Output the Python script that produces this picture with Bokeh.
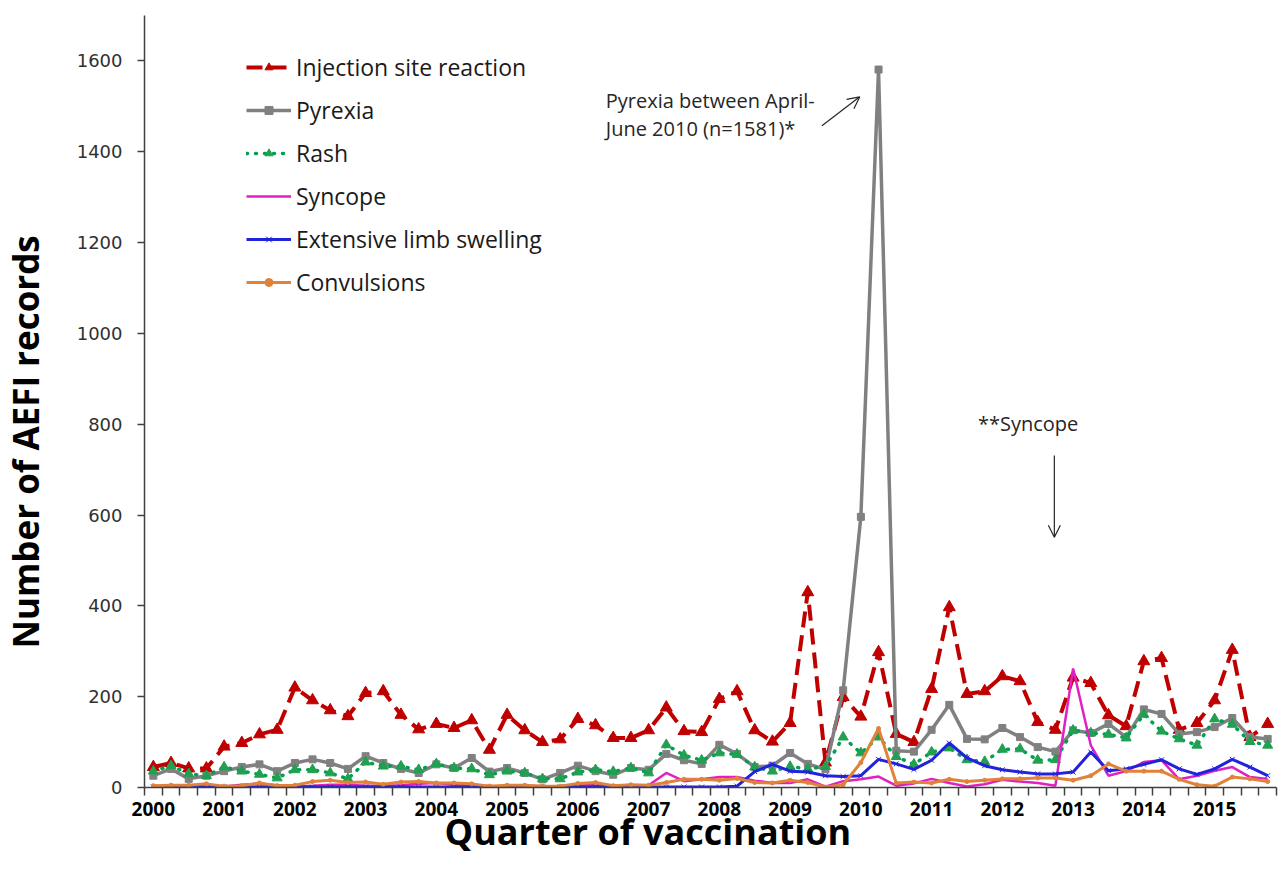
from bokeh.plotting import figure
from bokeh.models import Range1d, FixedTicker, Legend, LegendItem, Label, Arrow, OpenHead, Title
from bokeh.embed import file_html
from bokeh.resources import INLINE

# ---- data -------------------------------------------------------------
year_labels = [str(y) for y in range(2000, 2016)]
quarters = [f"{y} Q{q}" for y in year_labels for q in range(1, 5)]

injection_site = [45, 54, 42, 42, 90, 98, 117, 127, 220, 192,
                  170, 157, 208, 212, 160, 128, 140, 131, 148, 83,
                  160, 126, 100, 106, 151, 137, 109, 109, 126, 176,
                  124, 122, 195, 212, 126, 101, 142, 430, 55, 199,
                  156, 298, 118, 100, 217, 397, 206, 212, 245, 234,
                  144, 127, 242, 230, 159, 135, 278, 285, 127, 142,
                  192, 303, 111, 140]
pyrexia = [26, 41, 19, 26, 36, 45, 51, 36, 54, 62,
           54, 41, 69, 54, 41, 32, 51, 43, 65, 35,
           43, 32, 18, 32, 48, 36, 28, 43, 39, 74,
           60, 52, 94, 74, 45, 48, 76, 52, 40, 214,
           596, 1581, 81, 79, 127, 182, 107, 106, 131, 111,
           89, 79, 126, 120, 140, 111, 172, 162, 118, 122,
           133, 153, 111, 107]
rash = [36, 48, 30, 26, 45, 36, 29, 21, 39, 39,
        32, 19, 56, 47, 47, 39, 52, 43, 41, 28,
        36, 32, 19, 19, 34, 39, 35, 43, 32, 94,
        71, 60, 76, 73, 45, 36, 46, 41, 46, 111,
        76, 111, 68, 51, 78, 87, 61, 57, 84, 85,
        60, 61, 126, 120, 117, 109, 161, 124, 107, 93,
        151, 139, 101, 93]
syncope = [2, 3, 2, 4, 2, 6, 8, 5, 3, 4,
           6, 6, 4, 4, 5, 8, 10, 6, 4, 3,
           3, 4, 3, 3, 5, 5, 3, 4, 5, 32,
           14, 18, 23, 23, 15, 10, 10, 18, 2, 14,
           18, 24, 4, 9, 19, 10, 2, 7, 17, 13,
           10, 4, 262, 93, 26, 36, 56, 60, 18, 26,
           37, 45, 23, 19]
limb_swelling = [1, 1, 1, 1, 1, 1, 1, 2, 1, 1,
                 1, 1, 1, 1, 1, 1, 1, 1, 1, 1,
                 1, 1, 1, 1, 1, 1, 1, 1, 1, 1,
                 1, 1, 1, 3, 35, 51, 36, 34, 26, 24,
                 26, 62, 52, 40, 60, 98, 65, 48, 39, 34,
                 30, 30, 34, 78, 37, 41, 51, 61, 41, 29,
                 41, 62, 45, 26]
convulsions = [4, 5, 5, 8, 3, 4, 10, 4, 5, 13,
               16, 11, 12, 7, 12, 13, 10, 10, 8, 3,
               5, 5, 3, 3, 9, 11, 4, 6, 5, 11,
               18, 18, 16, 20, 11, 10, 16, 11, 1, 6,
               55, 130, 10, 12, 10, 18, 13, 16, 19, 19,
               21, 21, 16, 26, 52, 36, 36, 36, 18, 6,
               3, 23, 19, 13]

y_ticks = [0, 200, 400, 600, 800, 1000, 1200, 1400, 1600]

x = list(range(len(quarters)))

# ---- figure -----------------------------------------------------------
p = figure(width=1280, height=867, x_range=Range1d(-0.5, len(quarters) - 0.5),
           y_range=Range1d(0, 1700), output_backend="svg", toolbar_location=None,
           min_border_left=143, min_border_right=4, min_border_top=15, min_border_bottom=80)
p.xgrid.visible = False
p.ygrid.visible = False
p.outline_line_color = None
p.background_fill_color = "white"
p.border_fill_color = "white"

# x axis
xa = p.xaxis[0]
xa.ticker = FixedTicker(ticks=[4 * k for k in range(len(year_labels))],
                        minor_ticks=[i - 0.5 for i in range(len(quarters) + 1)])
xa.major_label_overrides = {4 * k: lab for k, lab in enumerate(year_labels)}
xa.major_tick_out = 0
xa.major_tick_in = 0
xa.minor_tick_out = 8
xa.minor_tick_in = 0
xa.minor_tick_line_color = "#404040"
xa.minor_tick_line_width = 1.5
xa.axis_line_color = "#404040"
xa.axis_line_width = 1.5
xa.major_label_text_font = "Open Sans"
xa.major_label_text_font_style = "bold"
xa.major_label_text_font_size = "19px"
xa.major_label_text_color = "black"
xa.major_label_standoff = 6

# y axis
ya = p.yaxis[0]
ya.ticker = FixedTicker(ticks=y_ticks)
ya.major_tick_out = 7
ya.major_tick_in = 0
ya.minor_tick_line_color = None
ya.major_tick_line_color = "#404040"
ya.major_tick_line_width = 1.5
ya.axis_line_color = "#404040"
ya.axis_line_width = 1.5
ya.major_label_text_font = "DejaVu Sans"
ya.major_label_text_font_size = "18px"
ya.major_label_text_color = "#303030"
ya.major_label_standoff = 15

# axis titles (placed off-centre like the reference)
spacer = Title(text=" ", text_font_size="1px", standoff=21)
p.add_layout(spacer, "left")
y_title = Title(text="Number of AEFI records", align="left", offset=139, standoff=0,
                vertical_align="middle", text_font="Open Sans", text_font_style="bold",
                text_font_size="35px", text_color="black")
p.add_layout(y_title, "left")
x_title = Title(text="Quarter of vaccination", align="left", offset=300, standoff=-26,
                vertical_align="middle", text_font="Open Sans", text_font_style="bold",
                text_font_size="36px", text_color="black")
p.add_layout(x_title, "below")

# ---- series -----------------------------------------------------------
items = []

r1 = p.line(x, injection_site, line_color="#C00000", line_width=4, line_dash="16 8")
m1 = p.scatter(x, injection_site, marker="triangle", size=12, fill_color="#C00000", line_color="#C00000")
items.append(LegendItem(label="Injection site reaction", renderers=[r1, m1]))

r2 = p.line(x, pyrexia, line_color="#808080", line_width=3.5)
m2 = p.scatter(x, pyrexia, marker="square", size=7, fill_color="#808080", line_color="#808080")
items.append(LegendItem(label="Pyrexia", renderers=[r2, m2]))

r3 = p.line(x, rash, line_color="#00A050", line_width=3.5, line_dash="1 8", line_cap="round")
m3 = p.scatter(x, rash, marker="triangle", size=10, fill_color="#20A050", line_color="#20A050")
items.append(LegendItem(label="Rash", renderers=[r3, m3]))

r4 = p.line(x, syncope, line_color="#E020C0", line_width=2.5)
items.append(LegendItem(label="Syncope", renderers=[r4]))

r5 = p.line(x, limb_swelling, line_color="#2222DD", line_width=3)
m5 = p.scatter(x, limb_swelling, marker="x", size=7, line_color="#2222DD", line_width=1)
items.append(LegendItem(label="Extensive limb swelling", renderers=[r5, m5]))

r6 = p.line(x, convulsions, line_color="#E0823A", line_width=3)
m6 = p.scatter(x, convulsions, marker="circle", size=4, fill_color="#E0823A", line_color="#E0823A")
items.append(LegendItem(label="Convulsions", renderers=[r6, m6]))

legend = Legend(items=items, location=(102, 489), orientation="vertical",
                glyph_width=45, glyph_height=20, label_height=20, spacing=11,
                label_standoff=5, padding=0, margin=0,
                border_line_color=None, background_fill_alpha=0,
                label_text_font="Open Sans", label_text_font_size="23px",
                label_text_color="#1a1a1a")
p.add_layout(legend, "center")

# ---- annotations ------------------------------------------------------
txt = "#262626"
p.add_layout(Label(x=25.58, y=1512, text="Pyrexia between April-", text_font="Open Sans",
                   text_font_size="20px", text_baseline="middle", text_align="left", text_color=txt))
p.add_layout(Label(x=25.58, y=1452, text="June 2010 (n=1581)*", text_font="Open Sans",
                   text_font_size="20px", text_baseline="middle", text_align="left", text_color=txt))
p.add_layout(Arrow(end=OpenHead(size=12, line_width=1.2, line_color=txt),
                   x_start=37.8, y_start=1457, x_end=39.94, y_end=1521,
                   line_width=1.2, line_color=txt))
p.add_layout(Label(x=46.62, y=802, text="**Syncope", text_font="Open Sans",
                   text_font_size="20px", text_baseline="middle", text_align="left", text_color=txt))
p.add_layout(Arrow(end=OpenHead(size=12, line_width=1.2, line_color=txt),
                   x_start=50.94, y_start=731, x_end=50.94, y_end=551,
                   line_width=1.2, line_color=txt))

open("out.html", "w").write(file_html(p, INLINE))
